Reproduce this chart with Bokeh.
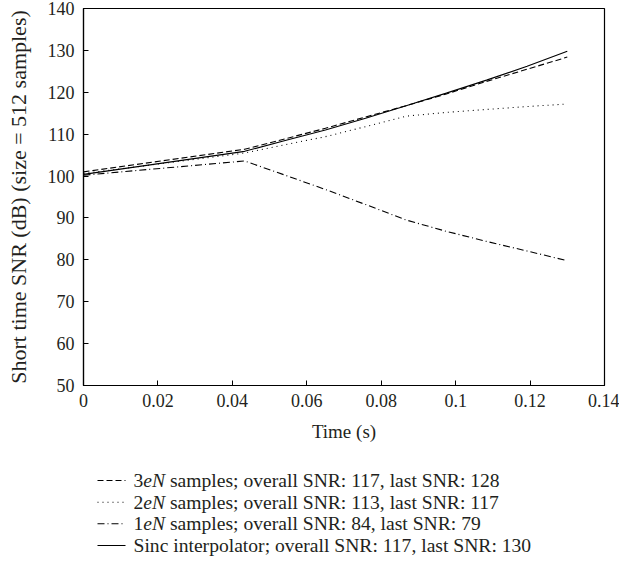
from bokeh.plotting import figure
from bokeh.layouts import column
from bokeh.models import Range1d, FixedTicker
from bokeh.core.properties import value
from bokeh.embed import file_html
from bokeh.resources import INLINE

# ---- data ----
time_s = [0.0, 0.0433, 0.0542, 0.065, 0.0758, 0.0867, 0.0975, 0.1083, 0.1192, 0.13]
snr_3eN = [101.0, 106.4, 108.9, 111.4, 114.1, 116.8, 119.6, 122.6, 125.5, 128.4]
snr_2eN = [100.6, 105.5, 107.5, 109.4, 111.8, 114.3, 115.2, 115.9, 116.6, 117.2]
snr_1eN = [100.2, 103.6, 100.2, 96.8, 93.2, 89.5, 86.8, 84.4, 82.1, 79.8]
snr_sinc = [100.4, 105.9, 108.5, 111.0, 113.8, 116.8, 119.8, 122.9, 126.2, 129.8]

x_ticks = [0, 0.02, 0.04, 0.06, 0.08, 0.1, 0.12, 0.14]
x_tick_labels = ["0", "0.02", "0.04", "0.06", "0.08", "0.1", "0.12", "0.14"]
y_ticks = [50, 60, 70, 80, 90, 100, 110, 120, 130, 140]

legend_prefix = ["3", "2", "1", ""]
legend_italic = ["eN", "eN", "eN", ""]
legend_rest = ["samples; overall SNR: 117, last SNR: 128",
               "samples; overall SNR: 113, last SNR: 117",
               "samples; overall SNR: 84, last SNR: 79",
               "Sinc interpolator; overall SNR: 117, last SNR: 130"]
legend_dash = ["6 3", "1 4", "7 3 1 3", "solid"]

FONT = "Liberation Serif"
FS = "18px"
LFS_PX = 19.6
LFS = f"{LFS_PX}px"
TXT = "#231f20"

W = 619
FR_L, FR_R, FR_T, FR_B = 83, 604, 8, 385
H_MAIN = 445
H_LEG = 111

p = figure(width=W, height=H_MAIN, output_backend="svg", toolbar_location=None,
           x_range=Range1d(0, 0.14), y_range=Range1d(50, 140),
           min_border_left=FR_L, min_border_right=W - FR_R, min_border_top=FR_T,
           min_border_bottom=H_MAIN - FR_B)
p.grid.visible = False
p.outline_line_color = "black"
p.outline_line_width = 1.2
p.background_fill_color = "white"
p.border_fill_color = "white"

for ax in (p.xaxis[0], p.yaxis[0]):
    ax.axis_line_color = "black"
    ax.axis_line_width = 1.2
    ax.major_tick_in = 5
    ax.major_tick_out = 0
    ax.major_tick_line_color = "black"
    ax.minor_tick_line_color = None
    ax.major_label_text_font = FONT
    ax.major_label_text_font_size = FS
    ax.major_label_text_color = TXT
    ax.axis_label_text_font = FONT
    ax.axis_label_text_font_style = "normal"
    ax.axis_label_text_color = TXT

p.xaxis[0].ticker = FixedTicker(ticks=x_ticks)
p.xaxis[0].major_label_overrides = {t: l for t, l in zip(x_ticks, x_tick_labels)}
p.xaxis[0].axis_label = "Time (s)"
p.xaxis[0].axis_label_text_font_size = "19px"
p.xaxis[0].major_label_standoff = 8
p.xaxis[0].axis_label_standoff = 11
p.yaxis[0].ticker = FixedTicker(ticks=y_ticks)
p.yaxis[0].axis_label = "Short time SNR (dB) (size = 512 samples)"
p.yaxis[0].axis_label_text_font_size = "22px"
p.yaxis[0].major_label_standoff = 9
p.yaxis[0].axis_label_standoff = 14

series = [snr_3eN, snr_2eN, snr_1eN, snr_sinc]
for ys, dash in zip(series, legend_dash):
    p.line(time_s, ys, line_color="black", line_width=1.1, line_dash=dash)

# ---- legend drawn in a strip below the chart (page-pixel coordinates) ----
leg = figure(width=W, height=H_LEG, output_backend="svg", toolbar_location=None,
             x_range=Range1d(FR_L, FR_R), y_range=Range1d(H_LEG, 0),
             min_border_left=FR_L, min_border_right=W - FR_R,
             min_border_top=0, min_border_bottom=0,
             x_axis_type=None, y_axis_type=None)
leg.grid.visible = False
leg.outline_line_color = None
leg.background_fill_color = "white"
leg.border_fill_color = "white"

row_y = [35, 56.7, 78.3, 100]
line_x0, line_x1 = 97, 125
text_x = 133
for i in range(4):
    leg.line([line_x0, line_x1], [row_y[i], row_y[i]], line_color="black",
             line_width=1.1, line_dash=legend_dash[i])
    x = text_x
    if legend_prefix[i]:
        leg.text([x], [row_y[i]], text=[legend_prefix[i]], text_font=value(FONT),
                 text_font_size=value(LFS), text_color=TXT, text_baseline="middle")
        x += 0.5 * LFS_PX
        leg.text([x], [row_y[i]], text=[legend_italic[i]], text_font=value(FONT),
                 text_font_size=value(LFS), text_font_style="italic",
                 text_color=TXT, text_baseline="middle")
        x += 1.111 * LFS_PX + 0.25 * LFS_PX
    leg.text([x], [row_y[i]], text=[legend_rest[i]], text_font=value(FONT),
             text_font_size=value(LFS), text_color=TXT, text_baseline="middle")

layout = column(p, leg, spacing=0)
open("out.html", "w").write(file_html(layout, INLINE))
